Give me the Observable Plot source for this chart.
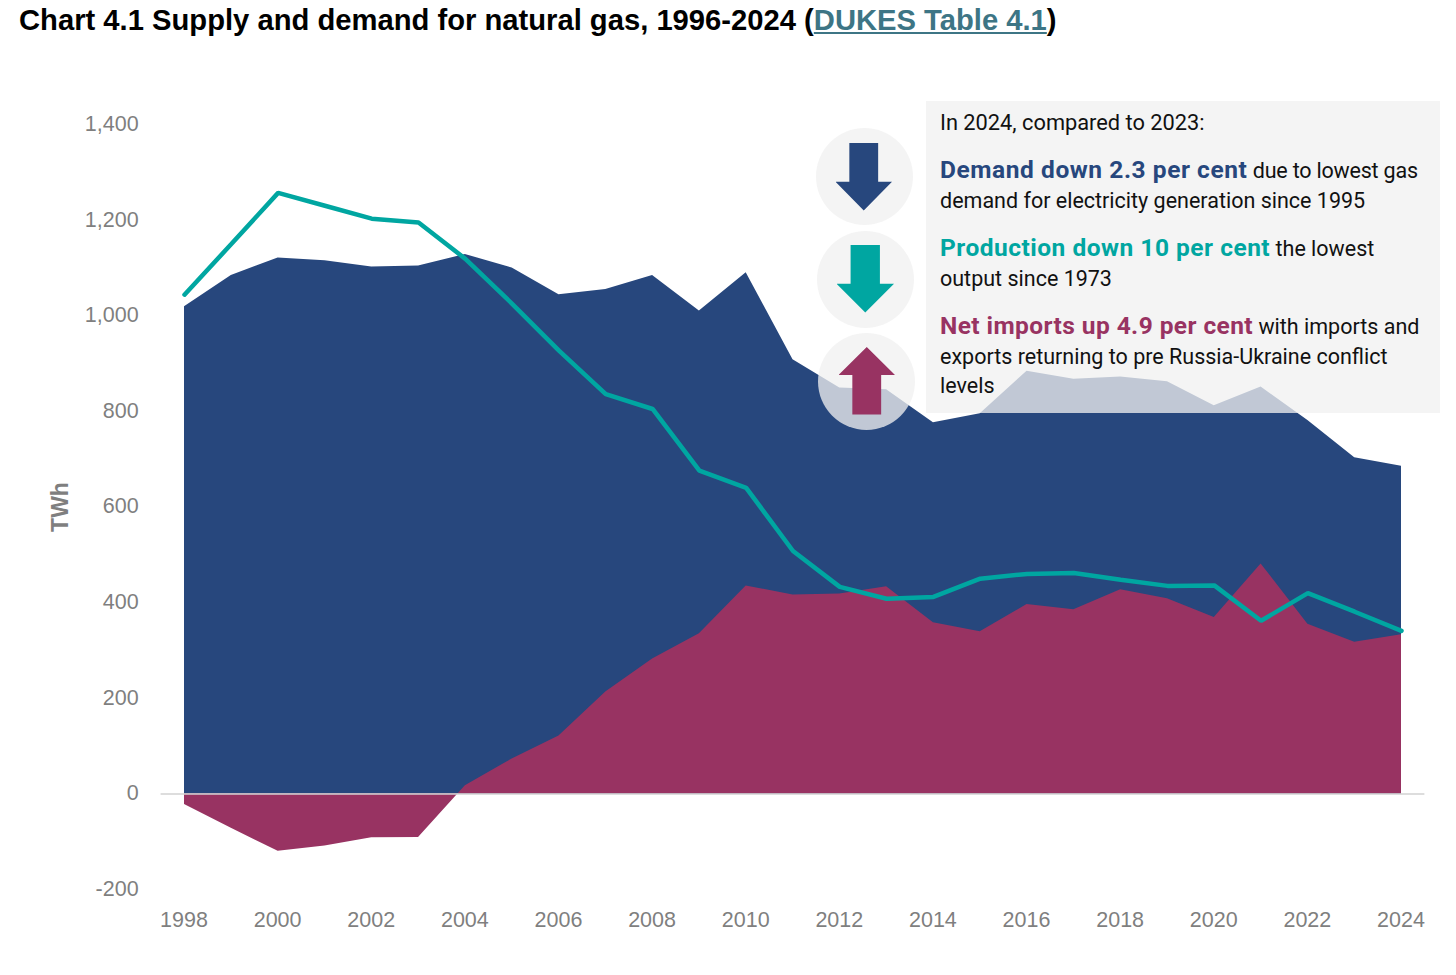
<!DOCTYPE html>
<html lang="en">
<head>
<meta charset="utf-8">
<title>Chart 4.1 Supply and demand for natural gas</title>
<script src="https://cdn.jsdelivr.net/npm/d3@7"></script>
<script src="https://cdn.jsdelivr.net/npm/@observablehq/plot@0.6"></script>
<style>
  html, body { margin: 0; padding: 0; background: #fff; }
  #page { position: relative; width: 1456px; height: 975px; overflow: hidden; }
  #chart { position: absolute; left: 0; top: 0; }
  #chart svg { display: block; }
  #title { position: absolute; left: 19px; top: 3px; font: bold 29.2px/34px "Liberation Sans", Arial, sans-serif; color: #000; white-space: nowrap; }
  #title a { color: #3d7585; text-decoration: underline; }
  #panel { position: absolute; left: 926px; top: 101px; width: 514px; height: 312px; background: rgba(241,241,241,.764); }
  .l { position: absolute; left: 940px; white-space: nowrap; font: 21.5px/28px "Roboto", sans-serif; color: #111; }
  .l b { font-weight: 700; font-size: 24.5px; letter-spacing: .5px; }
  .disc { position: absolute; width: 97px; height: 97px; border-radius: 50%; background: rgba(241,241,241,.764); }
  .arrow { position: absolute; }
  .down { clip-path: polygon(24.5% 0, 75.5% 0, 75.5% 57.5%, 100% 57.5%, 50% 100%, 0 57.5%, 24.5% 57.5%); }
  .up { clip-path: polygon(50% 0, 100% 41.5%, 75.5% 41.5%, 75.5% 100%, 24.5% 100%, 24.5% 41.5%, 0 41.5%); }
</style>
</head>
<body>
<div id="page">
  <div id="chart"></div>
  <div id="title">Chart 4.1 Supply and demand for natural gas, 1996-2024 (<a href="#">DUKES Table 4.1</a>)</div>
  <div id="panel"></div>
  <div class="disc" style="left:815.5px;top:128px"></div>
  <div class="disc" style="left:817px;top:230.5px"></div>
  <div class="disc" style="left:818px;top:332.5px"></div>
  <div class="arrow down" style="left:835.5px;top:143px;width:56.5px;height:67.5px;background:#27477d"></div>
  <div class="arrow down" style="left:836.5px;top:245px;width:57.5px;height:67.5px;background:#00a6a1"></div>
  <div class="arrow up" style="left:838.5px;top:347px;width:56.5px;height:67.5px;background:#983362"></div>
  <div class="l" style="top:109px;font-size:21.8px">In 2024, compared to 2023:</div>
  <div class="l" style="top:156px"><b style="color:#27477d;letter-spacing:.56px">Demand down 2.3 per cent</b> <span style="letter-spacing:-.2px">due to lowest gas</span></div>
  <div class="l" style="top:187px">demand for electricity generation since 1995</div>
  <div class="l" style="top:234px"><b style="color:#00a6a1">Production down 10 per cent</b> the lowest</div>
  <div class="l" style="top:265px">output since 1973</div>
  <div class="l" style="top:312px"><b style="color:#983362;letter-spacing:.42px">Net imports up 4.9 per cent</b> with imports and</div>
  <div class="l" style="top:343px">exports returning to pre Russia-Ukraine conflict</div>
  <div class="l" style="top:372px">levels</div>
</div>
<script>
const years = [1998,1999,2000,2001,2002,2003,2004,2005,2006,2007,2008,2009,2010,2011,2012,2013,2014,2015,2016,2017,2018,2019,2020,2021,2022,2023,2024];
const demand = [1019,1084,1121,1115,1102,1104,1128,1100,1044,1055,1084,1010,1090,908,849,845,776,795,884,867,872,862,812,851,781,703,685];
const netImports = [-22,-72,-120,-109,-92,-91,17,73,121,213,282,335,435,416,418,433,358,339,396,385,427,408,369,481,355,317,333];
const production = [1044,1150,1257,1230,1203,1195,1119,1025,927,836,805,676,640,508,433,408,412,450,460,462,448,435,436,362,420,381,341];
const xTicks = [1998,2000,2002,2004,2006,2008,2010,2012,2014,2016,2018,2020,2022,2024];
const yTicks = [-200,0,200,400,600,800,1000,1200,1400];

const navy = "#27477d", plum = "#983362", teal = "#00a6a1", grey = "#7f7f7f";
const rows = years.map((year, i) => ({year, demand: demand[i], netImports: netImports[i], production: production[i]}));

const plot = Plot.plot({
  width: 1456,
  height: 960,
  marginLeft: 160.6,
  marginRight: 31.6,
  marginTop: 124,
  marginBottom: 71,
  style: {background: "transparent", fontFamily: "'Liberation Sans', Arial, sans-serif", fontSize: "21.5px", color: grey},
  x: {domain: [1997.5, 2024.5]},
  y: {domain: [-200, 1400]},
  marks: [
    Plot.areaY(rows, {x: "year", y: "demand", fill: navy}),
    Plot.areaY(rows, {x: "year", y: "netImports", fill: plum}),
    Plot.ruleY([0], {stroke: "#d2d2d2", strokeWidth: 1.5}),
    Plot.lineY(rows, {x: "year", y: "production", stroke: teal, strokeWidth: 4.5, strokeLinejoin: "miter"}),
    Plot.axisX({ticks: xTicks, tickFormat: d => String(d), tickSize: 0, tickPadding: 22, dx: -0.5, label: null, fill: grey}),
    Plot.axisY({ticks: yTicks, tickFormat: d => d.toLocaleString("en-GB"), tickSize: 0, tickPadding: 22, dy: -0.5, dx: -0.5, label: null, fill: grey}),
    Plot.text(["TWh"], {frameAnchor: "left", textAnchor: "middle", dx: -100, rotate: -90, fill: grey, fontSize: 23, fontWeight: 700})
  ]
});
document.getElementById("chart").appendChild(plot);
</script>
</body>
</html>
